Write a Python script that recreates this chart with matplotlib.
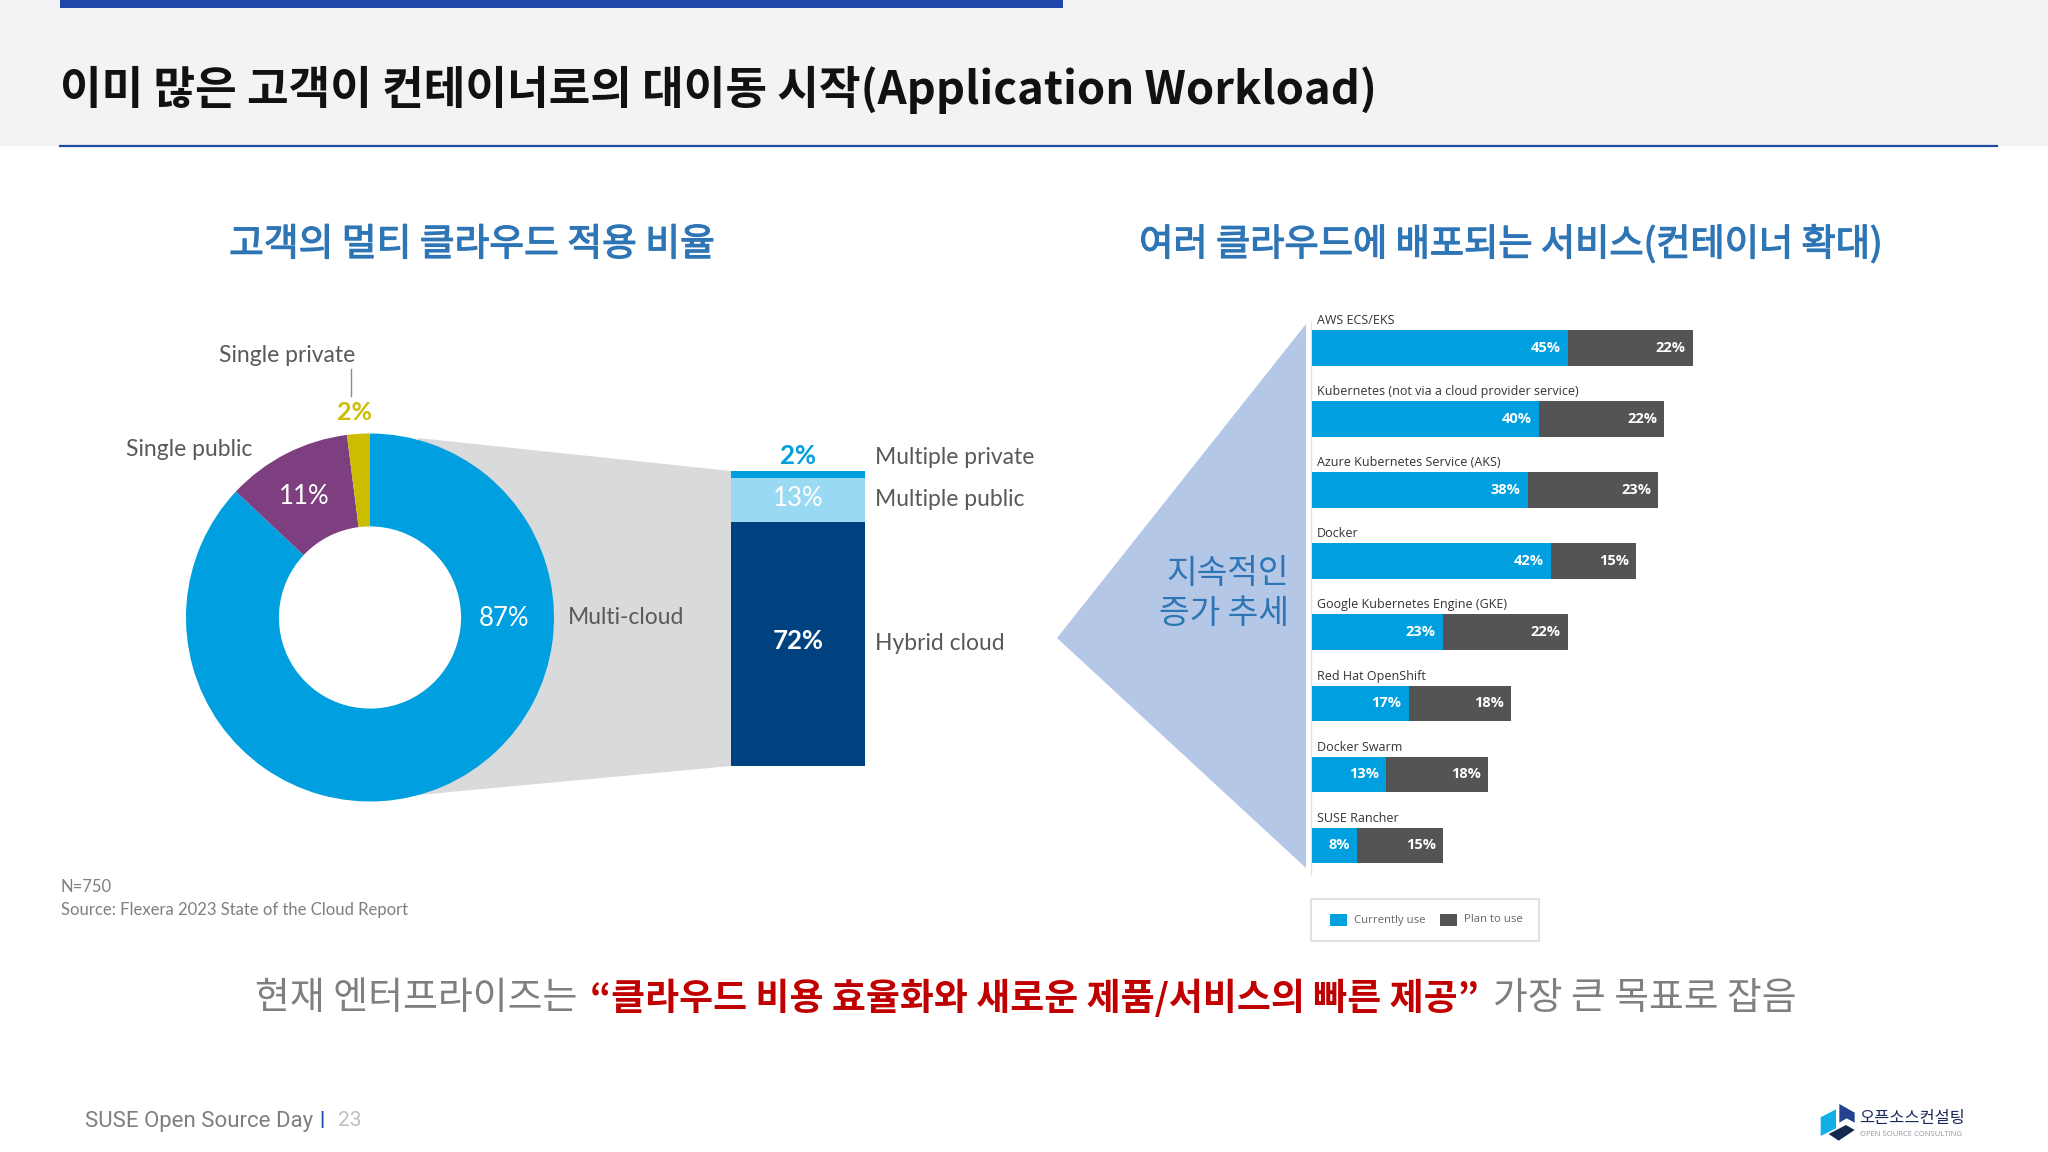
#!/usr/bin/env python3
"""슬라이드 재현: 멀티 클라우드 적용 비율 + 컨테이너 서비스 막대."""

import matplotlib
matplotlib.use("Agg")
import matplotlib.pyplot as plt
import matplotlib.patheffects as pe
from matplotlib.patches import Circle, Polygon, Rectangle

W, H = 2048, 1152

KR = ["Noto Sans CJK KR", "DejaVu Sans"]
LAT = ["Lato", "DejaVu Sans"]
SMALL = ["Open Sans", "DejaVu Sans"]

# 도넛 데이터
donut_labels = ["Multi-cloud", "Single public", "Single private"]
donut_values = [87, 11, 2]

# 누적 기둥 데이터 (아래에서 위로)
stack_labels = ["Hybrid cloud", "Multiple public", "Multiple private"]
stack_values = [72, 13, 2]

# 가로 막대 데이터
services = [
    "AWS ECS/EKS",
    "Kubernetes (not via a cloud provider service)",
    "Azure Kubernetes Service (AKS)",
    "Docker",
    "Google Kubernetes Engine (GKE)",
    "Red Hat OpenShift",
    "Docker Swarm",
    "SUSE Rancher",
]
currently_use = [45, 40, 38, 42, 23, 17, 13, 8]
plan_to_use = [22, 22, 23, 15, 22, 18, 18, 15]

CYAN = "#009fdf"
PURPLE = "#7e3f80"
YELLOW = "#cbbd00"
LIGHT = "#99d9f2"
NAVY = "#004280"
FUNNEL = "#d9dadc"
DARK = "#545454"
SUB = "#2e75b6"
TRI = "#b4c7e7"
GREY = "#595959"

fig = plt.figure(figsize=(W / 100, H / 100), dpi=100, facecolor="white")


def px_axes(x0, y0, x1, y1, z=1):
    ax = fig.add_axes([x0 / W, 1 - y1 / H, (x1 - x0) / W, (y1 - y0) / H], zorder=z)
    ax.axis("off")
    return ax


def layer(z):
    ax = px_axes(0, 0, W, H, z)
    ax.set_xlim(0, W)
    ax.set_ylim(H, 0)
    return ax


bg = layer(0)
top = layer(5)


def label(x, y, s, fs=16.5, color=GREY, ha="left", family=LAT, weight="normal"):
    return top.text(x, y, s, fontsize=fs, color=color, ha=ha, va="center", family=family, weight=weight)


# 헤더
bg.add_patch(Rectangle((0, 0), W, 146, fc="#f2f3f5", ec="none"))
bg.add_patch(Rectangle((60, 0), 1003, 8, fc="#1f46a8", ec="none"))
bg.plot([60, 1997], [145.5, 145.5], color="#1f4ea0", lw=1.6)
label(60, 90, "이미 많은 고객이 컨테이너로의 대이동 시작(Application Workload)",
      fs=32.6, color="#111111", family=KR, weight="bold")

# 소제목은 Medium 굵기가 없어서 살짝 외곽선으로 두껍게
medium = [pe.withStroke(linewidth=0.9, foreground=SUB)]
label(472, 245, "고객의 멀티 클라우드 적용 비율", fs=27.2, color=SUB, ha="center", family=KR).set_path_effects(medium)
label(1511, 245, "여러 클라우드에 배포되는 서비스(컨테이너 확대)", fs=26.8, color=SUB, ha="center", family=KR).set_path_effects(medium)

# 깔때기, 도넛
bg.add_patch(Polygon([(418, 438), (731, 471), (731, 766), (418, 795)], fc=FUNNEL, ec="none"))

pie_ax = px_axes(186, 433, 554, 802, 2)
pie_ax.pie(donut_values, colors=[CYAN, PURPLE, YELLOW], startangle=90, counterclock=False,
           radius=1, wedgeprops={"width": 0.505, "linewidth": 0})
pie_ax.add_patch(Circle((0, 0), 0.495, fc="white", ec="none", zorder=0))
pie_ax.set_xlim(-1, 1)
pie_ax.set_ylim(-1, 1)

label(504, 618, f"{donut_values[0]}%", color="white", ha="center", fs=18.5)
label(568, 618, donut_labels[0])
label(304, 497, f"{donut_values[1]}%", color="white", ha="center", fs=18.5)
label(189, 450, donut_labels[1], ha="center")
label(355, 412, f"{donut_values[2]}%", color=YELLOW, ha="center", fs=18, weight="bold")
label(287, 356, donut_labels[2], ha="center")
top.plot([350.5, 350.5], [369, 396], color="#8c8c8c", lw=1)

# 누적 기둥
col_ax = px_axes(731, 471, 865, 766, 2)
bottom = 0
for v, c in zip(stack_values, [NAVY, LIGHT, CYAN]):
    col_ax.bar(0, v, bottom=bottom, width=1, color=c, linewidth=0)
    bottom += v
col_ax.set_xlim(-0.5, 0.5)
col_ax.set_ylim(0, sum(stack_values))

label(798, 641, f"{stack_values[0]}%", color="white", ha="center", fs=18.5, weight="bold")
label(875, 643, stack_labels[0])
label(798, 498, f"{stack_values[1]}%", color="white", ha="center", fs=18.5)
label(875, 499, stack_labels[1])
label(798, 456, f"{stack_values[2]}%", color=CYAN, ha="center", fs=18.5, weight="bold")
label(875, 458, stack_labels[2])

label(61, 887, "N=750", fs=12, color="#7f7f7f")
label(61, 910, "Source: Flexera 2023 State of the Cloud Report", fs=12, color="#7f7f7f")

# 삼각형
bg.add_patch(Polygon([(1057, 638), (1306, 324), (1306, 868)], fc=TRI, ec="none"))
label(1289, 573, "지속적인", fs=24, color=SUB, ha="right", family=KR)
label(1289, 613, "증가 추세", fs=24, color=SUB, ha="right", family=KR)
bg.plot([1311, 1311], [322, 875], color="#e3e3e3", lw=1)

# 가로 막대
bar_ax = px_axes(1312, 312.4, 1312 + 70 * 5.68, 881, 2)
rows = list(range(len(services)))
bar_ax.barh(rows, currently_use, height=0.5, color=CYAN, linewidth=0)
bar_ax.barh(rows, plan_to_use, height=0.5, left=currently_use, color=DARK, linewidth=0)
bar_ax.set_xlim(0, 70)
bar_ax.set_ylim(7.5, -0.5)

for i, name in enumerate(services):
    bar_ax.annotate(name, (0, i - 0.25), xytext=(5, 9.5), textcoords="offset pixels",
                    fontsize=9, color="#333333", family=SMALL, va="center")
    cur, plan = currently_use[i], plan_to_use[i]
    bar_ax.annotate(f"{cur}%", (cur, i), xytext=(-7, 0), textcoords="offset pixels", ha="right",
                    va="center", fontsize=10.5, color="white", family=SMALL, weight="bold")
    bar_ax.annotate(f"{plan}%", (cur + plan, i), xytext=(-7, 0), textcoords="offset pixels", ha="right",
                    va="center", fontsize=10.5, color="white", family=SMALL, weight="bold")

# 범례
top.add_patch(Rectangle((1311, 899), 228, 42, fc="white", ec="#dddddd", lw=1.2))
top.add_patch(Rectangle((1330, 914), 17, 12, fc=CYAN, ec="none"))
label(1354, 920, "Currently use", fs=8.2, color="#666666", family=SMALL)
top.add_patch(Rectangle((1440, 914), 17, 12, fc=DARK, ec="none"))
label(1464, 920, "Plan to use", fs=8.2, color="#666666", family=SMALL)

# 하단 문장
label(255, 999, "현재 엔터프라이즈는", fs=27.3, color="#7f7f7f", family=KR)
label(590, 999, "“클라우드 비용 효율화와 새로운 제품/서비스의 빠른 제공”", fs=26.6, color="#c00000", family=KR, weight="bold")
label(1493, 999, "가장 큰 목표로 잡음", fs=27.2, color="#7f7f7f", family=KR)

# 꼬리말
label(85, 1121, "SUSE Open Source Day", fs=16, color="#7f7f7f", family=["Roboto", "DejaVu Sans"])
label(319, 1121, "|", fs=15, color="#1f46a8", family=["Roboto", "DejaVu Sans"], weight="bold")
label(338, 1121, "23", fs=15, color="#bfbfbf", family=["Roboto", "DejaVu Sans"])

# 로고
ox, oy = 1780, 1080
logo = [
    ([(122, 112), (168, 88), (168, 145), (122, 168)], "#12aee8"),
    ([(178, 72), (224, 98), (224, 128), (200, 115), (178, 128)], "#24428f"),
    ([(146, 162), (198, 135), (224, 150), (176, 182)], "#14294f"),
]
for pts, c in logo:
    bg.add_patch(Polygon([(ox + a / 3, oy + b / 3) for a, b in pts], fc=c, ec="none"))
label(1859, 1119, "오픈소스컨설팅", fs=11.8, color="#1a2a5a", family=KR, weight="medium")
label(1860, 1134, "OPEN SOURCE CONSULTING", fs=5.5, color="#8f95a3", family=SMALL)

fig.savefig("out.png", dpi=100, facecolor="white")
